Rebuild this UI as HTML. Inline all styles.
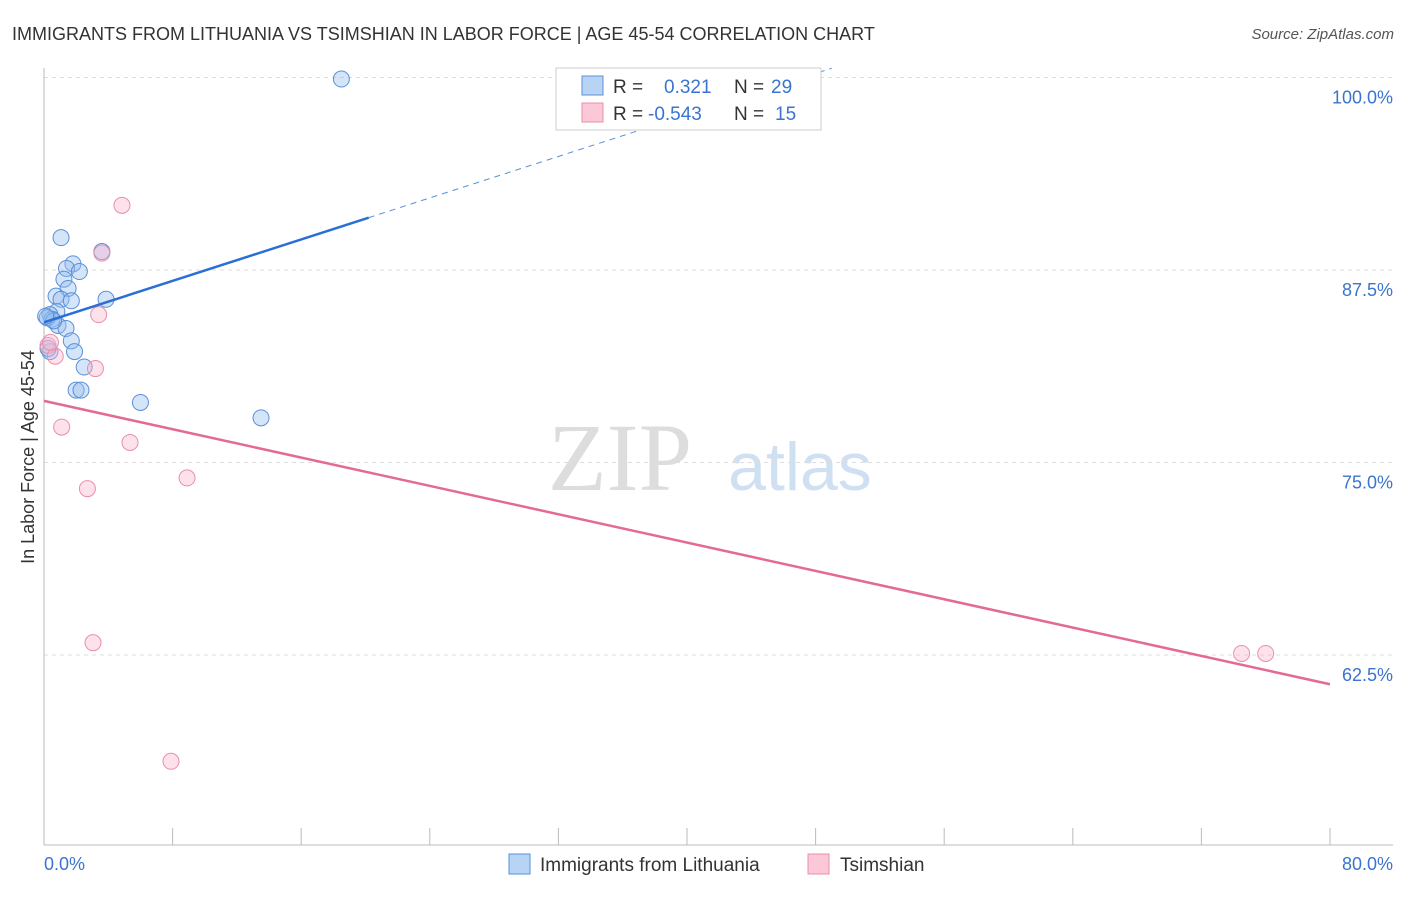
<!DOCTYPE html>
<html><head><meta charset="utf-8"><style>
body{margin:0;background:#fff;font-family:"Liberation Sans",sans-serif}
</style></head><body>
<svg width="1406" height="892" xmlns="http://www.w3.org/2000/svg" font-family="Liberation Sans, sans-serif">
<text x="12" y="40" font-size="18" fill="#333">IMMIGRANTS FROM LITHUANIA VS TSIMSHIAN IN LABOR FORCE | AGE 45-54 CORRELATION CHART</text>
<text x="1394" y="39" font-size="15" fill="#555" font-style="italic" text-anchor="end">Source: ZipAtlas.com</text>
<text x="620" y="490" font-size="96" fill="#ddd" font-family="Liberation Serif, serif" text-anchor="middle">ZIP</text>
<text x="800" y="490" font-size="68" fill="#cfe0f3" text-anchor="middle">atlas</text>
<g id="grid"></g>
<g id="axes"></g>
<g id="marks"></g>
<text transform="translate(34,457) rotate(-90)" font-size="18" fill="#333" text-anchor="middle">In Labor Force | Age 45-54</text>
<text x="44" y="870" font-size="18" fill="#3a74d0">0.0%</text>
<text x="1393" y="870" font-size="18" fill="#3a74d0" text-anchor="end">80.0%</text>
<g>
<rect x="556" y="68" width="265" height="62" fill="#fff" stroke="#ccc"/>
<rect x="582" y="76" width="21" height="19" fill="#b8d4f5" stroke="#5a90d8"/>
<rect x="582" y="103" width="21" height="19" fill="#fcc8d8" stroke="#e890a8"/>
<text x="613" y="93" font-size="19" fill="#333">R = </text><text x="664" y="93" font-size="19" fill="#3a74d0">0.321</text>
<text x="734" y="93" font-size="19" fill="#333">N = </text><text x="771" y="93" font-size="19" fill="#3a74d0">29</text>
<text x="613" y="120" font-size="19" fill="#333">R = </text><text x="648" y="120" font-size="19" fill="#3a74d0">-0.543</text>
<text x="734" y="120" font-size="19" fill="#333">N = </text><text x="775" y="120" font-size="19" fill="#3a74d0">15</text>
</g>
<g>
<rect x="509" y="854" width="21" height="20" fill="#b8d4f5" stroke="#5a90d8"/>
<text x="540" y="871" font-size="19" fill="#333">Immigrants from Lithuania</text>
<rect x="808" y="854" width="21" height="20" fill="#fcc8d8" stroke="#e890a8"/>
<text x="840" y="871" font-size="19" fill="#333">Tsimshian</text>
</g>
</svg>
<script>
const yTicks=[100,87.5,75,62.5];
const yTickLabels=["100.0%","87.5%","75.0%","62.5%"];
const xTicks=[0,8,16,24,32,40,48,56,64,72,80];
const blueX=[18.5,1.06,3.6,1.8,1.4,2.2,1.24,1.5,0.75,1.06,1.7,3.86,0.8,0.37,0.5,0.87,1.37,1.7,1.9,0.37,2.5,2.0,2.3,6.0,13.5,0.2,0.6,0.25,0.1];
const blueY=[99.9,89.6,88.7,87.9,87.6,87.4,86.9,86.3,85.8,85.6,85.5,85.6,84.8,84.6,84.3,83.9,83.7,82.9,82.2,82.2,81.2,79.7,79.7,78.9,77.9,84.4,84.2,82.4,84.5];
const pinkX=[4.85,3.6,3.4,0.25,0.7,3.2,1.1,5.35,8.9,2.7,3.05,7.9,74.5,76.0,0.4];
const pinkY=[91.7,88.6,84.6,82.6,81.9,81.1,77.3,76.3,74.0,73.3,63.3,55.6,62.6,62.6,82.8];
const blueTrend=[0,84.1,20.2,90.9,49,100.6];
const pinkTrend=[0,79.0,80,60.6];
const X=v=>44+v*16.075, Y=v=>77.5+(100-v)*15.4;
const NS="http://www.w3.org/2000/svg";
function mk(t,a,p){const e=document.createElementNS(NS,t);for(const k in a)e.setAttribute(k,a[k]);p.appendChild(e);return e;}
const g=document.getElementById('grid'),ax=document.getElementById('axes'),m=document.getElementById('marks');
yTicks.forEach((v,i)=>{
 const l=mk('line',{x1:44,x2:1393,y1:Y(v),y2:Y(v),stroke:'#ddd','stroke-dasharray':'4,4'},g);
 
 
 const t=mk('text',{x:1393,y:Y(v)+26,'font-size':18,fill:'#3a74d0','text-anchor':'end'},g);t.textContent=yTickLabels[i];
 
 
});
const a1=mk('line',{x1:44,x2:44,y1:68,y2:845,stroke:'#bbb'},ax);


const a2=mk('line',{x1:44,x2:1393,y1:845,y2:845,stroke:'#bbb'},ax);


xTicks.forEach(v=>{const t=mk('line',{x1:X(v),x2:X(v),y1:828,y2:845,stroke:'#bbb'},ax);
 
 });
function pts(xs,ys,fill,stroke,name){xs.forEach((x,i)=>{const c=mk('circle',{cx:X(x),cy:Y(ys[i]),r:8,fill:fill,stroke:stroke,'stroke-width':1},m);
 
 });}
pts(blueX,blueY,'rgba(150,190,240,0.4)','#5a90d8','lithuania-point');
pts(pinkX,pinkY,'rgba(250,180,205,0.4)','#e890a8','tsimshian-point');
const bt=mk('line',{x1:X(blueTrend[0]),y1:Y(blueTrend[1]),x2:X(blueTrend[2]),y2:Y(blueTrend[3]),stroke:'#2a6fd6','stroke-width':2.5},m);


const bd=mk('line',{x1:X(blueTrend[2]),y1:Y(blueTrend[3]),x2:X(blueTrend[4]),y2:Y(blueTrend[5]),stroke:'#5a90d8','stroke-width':1,'stroke-dasharray':'6,5'},m);


const pt=mk('line',{x1:X(pinkTrend[0]),y1:Y(pinkTrend[1]),x2:X(pinkTrend[2]),y2:Y(pinkTrend[3]),stroke:'#e46a96','stroke-width':2.5},m);


</script>
</body></html>
